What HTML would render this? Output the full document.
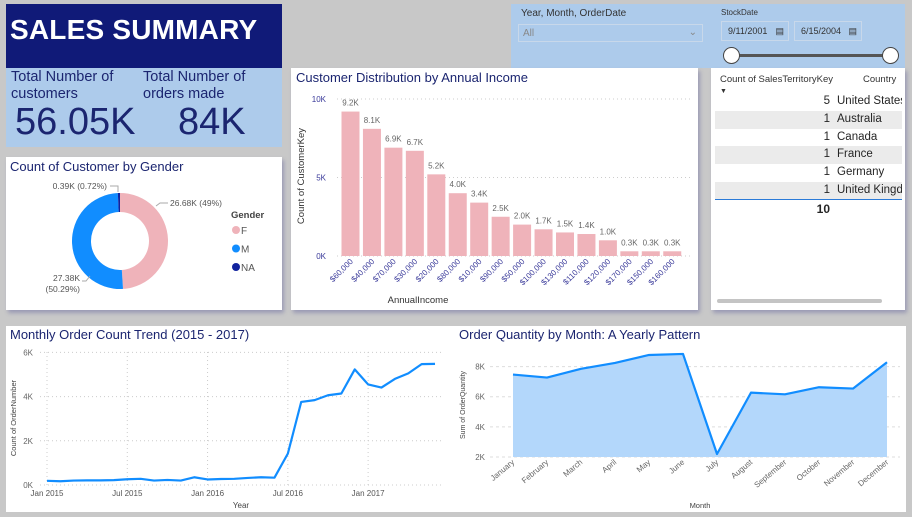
<!DOCTYPE html>
<html><head><meta charset="utf-8"><style>
body{margin:0;width:912px;height:517px;background:#c8c8c8;overflow:hidden;font-family:"Liberation Sans",sans-serif;position:relative}
.abs{position:absolute}
</style></head><body>
<div class="abs" style="left:6px;top:4px;width:276px;height:64px;background:#101a78"></div>
<div class="abs" style="left:10px;top:14px;color:#fff;font-weight:bold;font-size:28px;letter-spacing:0.2px">SALES SUMMARY</div>
<div class="abs" style="left:6px;top:68px;width:276px;height:79px;background:#adcbeb"></div>
<div class="abs" style="left:11px;top:69px;color:#1b2570;font-size:14.5px;line-height:17px">Total Number of<br>customers</div>
<div class="abs" style="left:15px;top:101px;color:#1b2570;font-size:38px">56.05K</div>
<div class="abs" style="left:143px;top:69px;color:#1b2570;font-size:14.5px;line-height:17px">Total Number of<br>orders made</div>
<div class="abs" style="left:178px;top:101px;color:#1b2570;font-size:38px">84K</div>

<div class="abs" style="left:511px;top:4px;width:394px;height:64px;background:#adcbeb"></div>
<div class="abs" style="left:521px;top:8px;font-size:10px;color:#333">Year, Month, OrderDate</div>
<div class="abs" style="left:518px;top:24px;width:185px;height:18px;border:1px solid #c8d8ea;font-size:10px;color:#888;line-height:18px;padding-left:4px;box-sizing:border-box">All<span style="position:absolute;right:5px;top:-1px;color:#888">&#8964;</span></div>
<div class="abs" style="left:721px;top:8px;font-size:8px;color:#333">StockDate</div>
<div class="abs" style="left:721px;top:21px;width:68px;height:20px;border:1px solid #c8d8ea;box-sizing:border-box;font-size:9px;color:#333;line-height:18px;padding-left:6px">9/11/2001 <span style="position:absolute;right:4px">&#9636;</span></div>
<div class="abs" style="left:794px;top:21px;width:68px;height:20px;border:1px solid #c8d8ea;box-sizing:border-box;font-size:9px;color:#333;line-height:18px;padding-left:6px">6/15/2004 <span style="position:absolute;right:4px">&#9636;</span></div>
<div class="abs" style="left:732px;top:54px;width:158px;height:3px;background:#555"></div>
<div class="abs" style="left:723px;top:47px;width:15px;height:15px;border-radius:50%;background:#fff;border:1.5px solid #444"></div>
<div class="abs" style="left:882px;top:47px;width:15px;height:15px;border-radius:50%;background:#fff;border:1.5px solid #444"></div>

<div class="abs" style="left:6px;top:157px;width:276px;height:153px;background:#fff;box-shadow:2px 3px 4px #9a9ab4"></div>
<div class="abs" style="left:291px;top:68px;width:407px;height:242px;background:#fff;box-shadow:2px 3px 4px #9a9ab4"></div>
<div class="abs" style="left:711px;top:68px;width:194px;height:242px;background:#fff;box-shadow:2px 3px 4px #9a9ab4"></div>
<div class="abs" style="left:6px;top:326px;width:900px;height:186px;background:#fff"></div>

<div class="abs" style="left:711px;top:68px;width:194px;height:242px;font-size:11.5px;color:#252525">
  <div style="position:absolute;left:9px;top:6px;font-size:9.5px;color:#333">Count of SalesTerritoryKey<br><span style="font-size:7px">&#9660;</span></div>
  <div style="position:absolute;left:152px;top:6px;font-size:9.5px;color:#333">Country</div>
  <div id="rows"></div>
  <div style="position:absolute;left:4px;top:131px;width:187px;height:1px;background:#2a7ad8"></div>
  <div style="position:absolute;left:0;width:119px;text-align:right;top:134px;font-weight:bold;font-size:12px">10</div>
  <div style="position:absolute;left:6px;top:231px;width:165px;height:4px;border-radius:2px;background:#c4c4c4"></div>
</div>

<svg id="svg" class="abs" style="left:0;top:0" width="912" height="517" font-family="Liberation Sans, sans-serif"></svg>

<script>
const tRows=[["5","United States"],["1","Australia"],["1","Canada"],["1","France"],["1","Germany"],["1","United Kingdom"]];
const rowsEl=document.getElementById('rows');
tRows.forEach((r,i)=>{const d=document.createElement('div');


d.style.cssText=`position:absolute;left:4px;top:${25+i*17.8}px;width:187px;height:17.8px;line-height:17.8px;white-space:nowrap;overflow:hidden;background:${i%2?'#ebebeb':'#fff'}`;
d.innerHTML=`<span style="position:absolute;right:72px">${r[0]}</span><span style="position:absolute;left:122px">${r[1]}</span>`;
rowsEl.appendChild(d);});

const NS='http://www.w3.org/2000/svg',svg=document.getElementById('svg');
function el(t,a,txt){const e=document.createElementNS(NS,t);for(const k in a)e.setAttribute(k,a[k]);if(txt!==undefined)e.textContent=txt;svg.appendChild(e);return e;}

// Titles
[["gender-title",10,171,"Count of Customer by Gender"],["income-title",296,82,"Customer Distribution by Annual Income"],["trend-title",10,339,"Monthly Order Count Trend (2015 - 2017)"],["quantity-title",459,339,"Order Quantity by Month: A Yearly Pattern"]].forEach(t=>{
const e=el('text',{x:t[1],y:t[2],'font-size':13,fill:'#1b2570'},t[3]);

});

// ---- Bar chart
const incomeCats=["$60,000","$40,000","$70,000","$30,000","$20,000","$80,000","$10,000","$90,000","$50,000","$100,000","$130,000","$110,000","$120,000","$170,000","$150,000","$160,000"];
const incomeVals=[9.2,8.1,6.9,6.7,5.2,4.0,3.4,2.5,2.0,1.7,1.5,1.4,1.0,0.3,0.3,0.3];
const incomeLabels=["9.2K","8.1K","6.9K","6.7K","5.2K","4.0K","3.4K","2.5K","2.0K","1.7K","1.5K","1.4K","1.0K","0.3K","0.3K","0.3K"];
const incomeTicks=[0,5,10];
const bY=v=>256-v*15.7, bX=i=>341.5+i*21.45;
incomeTicks.forEach(t=>{const g=el('line',{x1:337,x2:692,y1:bY(t),y2:bY(t),stroke:'#ccc','stroke-dasharray':'1,3'});
const l=el('text',{x:326,y:bY(t)+3,'font-size':8,fill:'#3a3a9a','text-anchor':'end'},t+'K');});
incomeVals.forEach((v,i)=>{const r=el('rect',{x:bX(i),y:bY(v),width:18,height:256-bY(v),fill:'#efb3ba'});
const l=el('text',{x:bX(i)+9,y:bY(v)-6,'font-size':8,fill:'#666','text-anchor':'middle'},incomeLabels[i]);
const c=el('text',{x:bX(i)+12,y:262,'font-size':8,fill:'#3a3a9a','text-anchor':'end',transform:`rotate(-45 ${bX(i)+12} 262)`},incomeCats[i]);});
let e=el('text',{x:418,y:303,'font-size':9.5,fill:'#333','text-anchor':'middle'},'AnnualIncome');
e=el('text',{x:304,y:176,'font-size':9.5,fill:'#333','text-anchor':'middle',transform:'rotate(-90 304 176)'},'Count of CustomerKey');

// ---- Donut
const genderCats=["F","M","NA"];
const genderVals=[26.68,27.38,0.39];
const genderColors=["#efb3ba","#118dff","#12239e"];
const cx=120,cy=241,R=48,r0=29;
const tot=genderVals.reduce((a,b)=>a+b,0);let a0=0;
genderVals.forEach((v,i)=>{const a1=a0+v/tot*2*Math.PI;
const p=(a,rr)=>[cx+rr*Math.sin(a),cy-rr*Math.cos(a)];
const [x1,y1]=p(a0,R),[x2,y2]=p(a1,R),[x3,y3]=p(a1,r0),[x4,y4]=p(a0,r0);const lg=a1-a0>Math.PI?1:0;
const s=el('path',{d:`M${x1},${y1}A${R},${R} 0 ${lg} 1 ${x2},${y2}L${x3},${y3}A${r0},${r0} 0 ${lg} 0 ${x4},${y4}Z`,fill:genderColors[i]});
a0=a1;});
[["0.39K (0.72%)",107,189,'end'],["26.68K (49%)",170,206,'start'],["27.38K",80,281,'end'],["(50.29%)",80,292,'end']].forEach(t=>{const l=el('text',{x:t[1],y:t[2],'font-size':8.5,fill:'#555','text-anchor':t[3]},t[0]);});
el('polyline',{points:'110,186 118,186 118,192',fill:'none',stroke:'#aaa'});
el('polyline',{points:'156,206 160,203 168,203',fill:'none',stroke:'#aaa'});
el('polyline',{points:'82,281 86,281 90,276',fill:'none',stroke:'#aaa'});
e=el('text',{x:231,y:218,'font-size':9.5,'font-weight':'bold',fill:'#444'},'Gender');
genderCats.forEach((c,i)=>{const y=230+i*18.5;const d=el('circle',{cx:236,cy:y,r:4,fill:genderColors[i]});
const l=el('text',{x:241,y:y+4,'font-size':10,fill:'#555'},c);});

// ---- Line chart (Jan 2015 .. Jun 2017, values in thousands)
const trendVals=[0.19,0.17,0.2,0.21,0.21,0.22,0.26,0.28,0.2,0.23,0.2,0.35,0.25,0.27,0.28,0.32,0.35,0.33,1.42,3.76,3.84,4.06,4.14,5.23,4.55,4.41,4.8,5.05,5.47,5.48];
const trendTicks=[0,2,4,6];
const trendXLabels=["Jan 2015","Jul 2015","Jan 2016","Jul 2016","Jan 2017"];
const lX=i=>47+i*13.38, lY=v=>485-v*22.1;
trendTicks.forEach(t=>{const g=el('line',{x1:40,x2:442,y1:lY(t),y2:lY(t),stroke:'#ccc','stroke-dasharray':'1,3'});
const l=el('text',{x:33,y:lY(t)+3,'font-size':8,fill:'#666','text-anchor':'end'},t+'K');});
trendXLabels.forEach((t,i)=>{const x=lX(i*6);const g=el('line',{x1:x,x2:x,y1:352,y2:485,stroke:'#ccc','stroke-dasharray':'1,3'});
const l=el('text',{x:x,y:496,'font-size':8,fill:'#555','text-anchor':'middle'},t);});
e=el('polyline',{points:trendVals.map((v,i)=>lX(i)+','+lY(v)).join(' '),fill:'none',stroke:'#118dff','stroke-width':2.2,'stroke-linejoin':'round'});
e=el('text',{x:241,y:508,'font-size':8,fill:'#444','text-anchor':'middle'},'Year');
e=el('text',{x:16,y:418,'font-size':7.5,fill:'#444','text-anchor':'middle',transform:'rotate(-90 16 418)'},'Count of OrderNumber');

// ---- Area chart
const months=["January","February","March","April","May","June","July","August","September","October","November","December"];
const qtyVals=[7.47,7.27,7.85,8.24,8.77,8.84,2.2,6.27,6.16,6.63,6.54,8.29];
const qtyTicks=[2,4,6,8];
const aX=i=>513+i*34, aY=v=>457-(v-2)*15.07;
qtyTicks.forEach(t=>{const g=el('line',{x1:490,x2:900,y1:aY(t),y2:aY(t),stroke:'#ddd','stroke-dasharray':'3,3'});
const l=el('text',{x:485,y:aY(t)+3,'font-size':8,fill:'#666','text-anchor':'end'},t+'K');});
const pts=qtyVals.map((v,i)=>aX(i)+','+aY(v));
e=el('polygon',{points:pts.join(' ')+` ${aX(11)},${aY(2)} ${aX(0)},${aY(2)}`,fill:'#b3d7fb'});
e=el('polyline',{points:pts.join(' '),fill:'none',stroke:'#118dff','stroke-width':2.2,'stroke-linejoin':'round'});
months.forEach((m,i)=>{const x=aX(i)+2,y=463;const l=el('text',{x:x,y:y,'font-size':8,fill:'#666','text-anchor':'end',transform:`rotate(-40 ${x} ${y})`},m);});
e=el('text',{x:700,y:508,'font-size':7.5,fill:'#444','text-anchor':'middle'},'Month');
e=el('text',{x:465,y:405,'font-size':7,fill:'#444','text-anchor':'middle',transform:'rotate(-90 465 405)'},'Sum of OrderQuantity');
</script>
</body></html>
